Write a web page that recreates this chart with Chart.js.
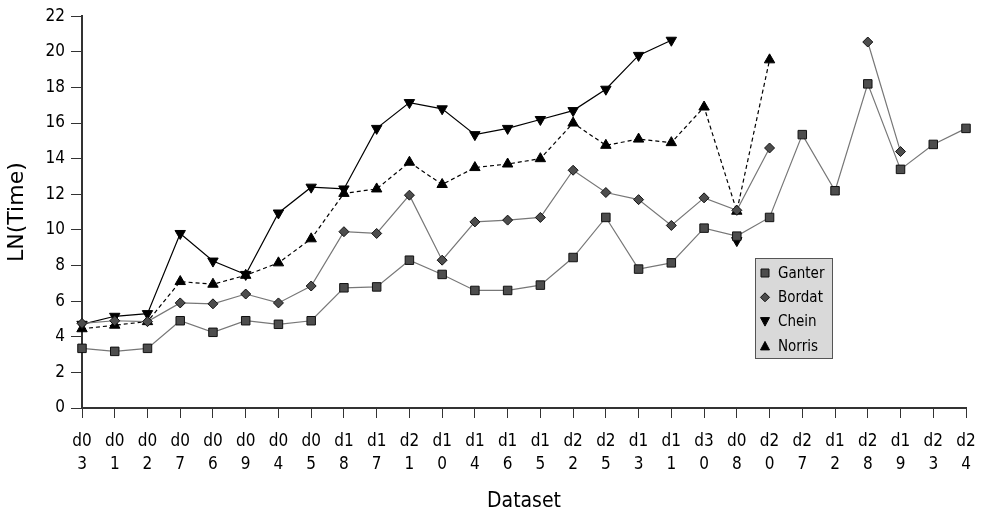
<!DOCTYPE html>
<html>
<head>
<meta charset="utf-8">
<script src="https://cdn.jsdelivr.net/npm/chart.js@4"></script>
<style>
html,body{margin:0;padding:0;background:#fff;}
#wrap{width:982px;height:516px;position:relative;}
</style>
</head>
<body>
<div id="wrap"><canvas id="c" width="982" height="516"></canvas></div>
<script>
const categories = [["d0","3"],["d0","1"],["d0","2"],["d0","7"],["d0","6"],["d0","9"],["d0","4"],["d0","5"],["d1","8"],["d1","7"],["d2","1"],["d1","0"],["d1","4"],["d1","6"],["d1","5"],["d2","2"],["d2","5"],["d1","3"],["d1","1"],["d3","0"],["d0","8"],["d2","0"],["d2","7"],["d1","2"],["d2","8"],["d1","9"],["d2","3"],["d2","4"]];
const ganter = [3.35,3.18,3.35,4.9,4.25,4.9,4.7,4.9,6.75,6.8,8.3,7.5,6.6,6.6,6.9,8.45,10.7,7.8,8.15,10.1,9.65,10.7,15.35,12.2,18.2,13.4,14.8,15.7];
const bordat = [4.75,4.9,4.85,5.9,5.85,6.4,5.9,6.85,9.9,9.8,11.95,8.3,10.45,10.55,10.7,13.35,12.1,11.7,10.25,11.8,11.1,14.6,null,null,20.55,14.4,null,null];
const chein = [4.7,5.15,5.3,9.8,8.25,7.5,10.95,12.4,12.3,15.7,17.15,16.8,15.35,15.7,16.2,16.7,17.9,19.8,20.65,null,9.4,null,null,null,null,null,null,null];
const norris = [4.45,4.65,4.85,7.1,6.95,7.45,8.15,9.5,12.05,12.3,13.8,12.55,13.5,13.7,14.0,16.0,14.75,15.1,14.9,16.9,11.05,19.55,null,null,null,null,null,null];
const yTicks = [0,2,4,6,8,10,12,14,16,18,20,22];

const FONT = "'DejaVu Sans', sans-serif";
const FONT_C = "'DejaVu Sans Condensed', 'DejaVu Sans', sans-serif";

const legendPlugin = {
  id: 'boxLegend',
  afterDraw(chart) {
    const ctx = chart.ctx;
    const x0 = 755, y0 = 258, w = 77, h = 100;
    ctx.save();
    ctx.fillStyle = '#d9d9d9';
    ctx.fillRect(x0, y0, w, h);
    ctx.strokeStyle = '#555';
    ctx.lineWidth = 1;
    ctx.strokeRect(x0 + 0.5, y0 + 0.5, w, h);
    const items = chart.data.datasets;
    ctx.font = '15px ' + FONT_C;
    ctx.textBaseline = 'middle';
    items.forEach((ds, i) => {
      const cy = y0 + 15 + i * 24.3;
      const cx = x0 + 10;
      ctx.fillStyle = ds.pointBackgroundColor;
      ctx.strokeStyle = ds.pointBorderColor;
      ctx.lineWidth = 1;
      ctx.beginPath();
      if (ds.label === 'Ganter') {
        ctx.rect(cx - 4, cy - 4, 8, 8);
      } else if (ds.label === 'Bordat') {
        ctx.moveTo(cx, cy - 4.5); ctx.lineTo(cx + 4.5, cy); ctx.lineTo(cx, cy + 4.5); ctx.lineTo(cx - 4.5, cy); ctx.closePath();
      } else if (ds.label === 'Chein') {
        ctx.moveTo(cx - 4.5, cy - 4); ctx.lineTo(cx + 4.5, cy - 4); ctx.lineTo(cx, cy + 4.5); ctx.closePath();
      } else {
        ctx.moveTo(cx - 4.5, cy + 4); ctx.lineTo(cx + 4.5, cy + 4); ctx.lineTo(cx, cy - 4.5); ctx.closePath();
      }
      ctx.fill(); ctx.stroke();
      ctx.fillStyle = '#000';
      ctx.fillText(ds.label, x0 + 23, cy + 1);
    });
    ctx.restore();
  }
};

new Chart(document.getElementById('c'), {
  type: 'line',
  data: {
    labels: categories,
    datasets: [
      {label:'Ganter', data: ganter, borderColor:'#777', borderWidth:1.2, pointStyle:'rect', pointRadius:6, pointBackgroundColor:'#4d4d4d', pointBorderColor:'#111', pointBorderWidth:1, tension:0, spanGaps:false},
      {label:'Bordat', data: bordat, borderColor:'#777', borderWidth:1.2, pointStyle:'rectRot', pointRadius:5, pointBackgroundColor:'#4d4d4d', pointBorderColor:'#111', pointBorderWidth:1, tension:0, spanGaps:false},
      {label:'Chein', data: chein, borderColor:'#000', borderWidth:1.2, pointStyle:'triangle', pointRotation:180, pointRadius:6, pointBackgroundColor:'#000', pointBorderColor:'#000', pointBorderWidth:1, tension:0, spanGaps:false},
      {label:'Norris', data: norris, borderColor:'#000', borderWidth:1.2, borderDash:[4,3], pointStyle:'triangle', pointRadius:6, pointBackgroundColor:'#000', pointBorderColor:'#000', pointBorderWidth:1, tension:0, spanGaps:false}
    ]
  },
  options: {
    responsive: false,
    animation: false,
    layout: {padding: {top: 14, right: 16, left: 0, bottom: 0}},
    plugins: {legend: {display:false}, tooltip: {enabled:false}},
    scales: {
      x: {
        type: 'category',
        offset: false,
        grid: {display:true, drawOnChartArea:false, drawTicks:true, tickLength:10, color:'#333', lineWidth:1},
        border: {display:true, color:'#333', width:2},
        ticks: {color:'#000', font:{family:FONT_C, size:17, lineHeight:1.35}, maxRotation:0, autoSkip:false, padding:12},
        title: {display:true, text:'Dataset', color:'#000', font:{family:FONT_C, size:21}, padding:{top:12, bottom:2}},
        afterFit(s){ s.height = 108; s.paddingRight = 0; s.paddingLeft = 0; }
      },
      y: {
        min: 0, max: 22,
        afterBuildTicks(s){ s.ticks = yTicks.map(v => ({value:v})); },
        grid: {display:true, drawOnChartArea:false, drawTicks:true, tickLength:11, color:'#333', lineWidth:1},
        border: {display:true, color:'#333', width:2},
        ticks: {color:'#000', font:{family:FONT_C, size:17}, padding:6},
        title: {display:true, text:'LN(Time)', color:'#000', font:{family:FONT, size:22}, padding:{bottom:4}},
        afterFit(s){ s.width = 82; }
      }
    }
  },
  plugins: [legendPlugin]
});
</script>
</body>
</html>
